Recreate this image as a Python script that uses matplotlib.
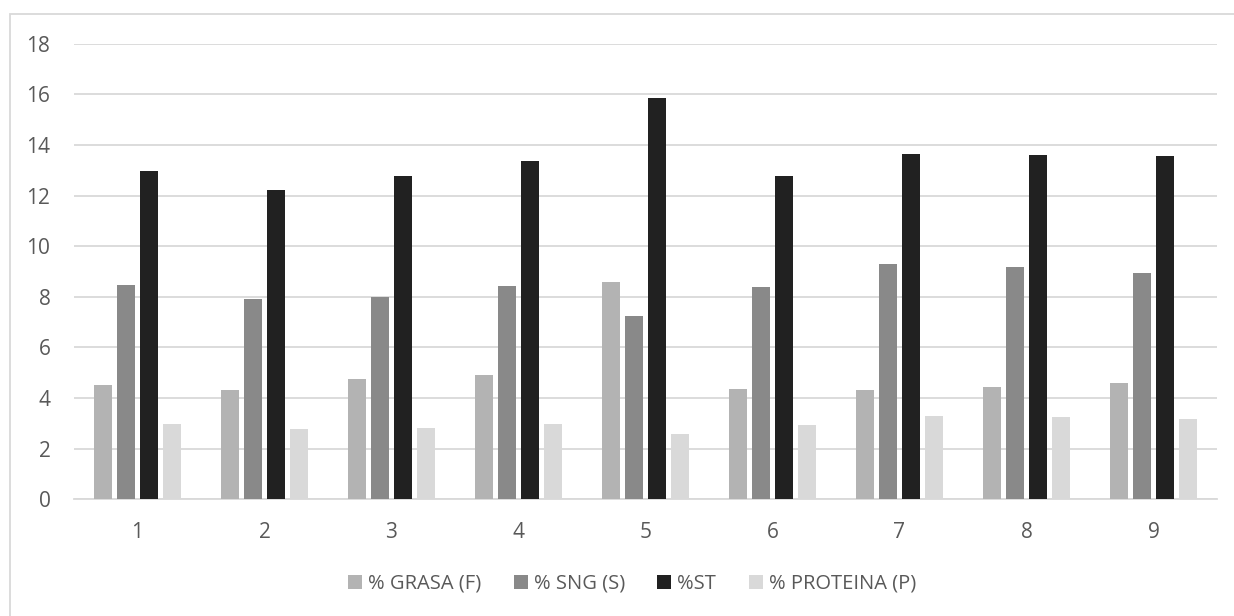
import numpy as np
import matplotlib.pyplot as plt
from matplotlib.patches import Patch, Rectangle

plt.rcParams['font.family'] = ['Open Sans', 'DejaVu Sans']

muestras = ['1', '2', '3', '4', '5', '6', '7', '8', '9']
grasa = [4.52, 4.32, 4.75, 4.91, 8.59, 4.36, 4.32, 4.44, 4.60]
sng = [8.47, 7.91, 8.00, 8.43, 7.24, 8.39, 9.30, 9.18, 8.94]
st = [12.97, 12.22, 12.77, 13.37, 15.86, 12.77, 13.64, 13.60, 13.56]
proteina = [2.97, 2.78, 2.82, 2.97, 2.58, 2.94, 3.29, 3.25, 3.17]

series = ['% GRASA (F)', '% SNG (S)', '%ST', '% PROTEINA (P)']
colores = ['#b3b3b3', '#898989', '#212121', '#d9d9d9']
texto = '#595959'

W, H = 1234, 616
fig = plt.figure(figsize=(W / 100, H / 100), dpi=100)

# marco exterior del grafico (cortado a la derecha y abajo)
fig.patches.append(Rectangle((10 / W, -0.05), 1.1, 1 - 14 / H + 0.05,
                             transform=fig.transFigure, fill=False,
                             edgecolor='#d9d9d9', linewidth=1.3))

ax = fig.add_axes([74 / W, (H - 499.3) / H, 1143 / W, (499.3 - 43.7) / H])

x = np.arange(len(muestras))
ancho = 0.142
paso = 0.181
valores = [grasa, sng, st, proteina]
for i, (vals, col) in enumerate(zip(valores, colores)):
    ax.bar(x + (i - 1.5) * paso, vals, ancho, color=col, zorder=3)

ax.set_xlim(-0.5, len(muestras) - 0.5)
ax.set_ylim(0, 18)
ax.set_yticks(range(0, 19, 2))
ax.set_xticks(x)
ax.set_xticklabels(muestras)
ax.yaxis.grid(True, color='#d9d9d9', linewidth=1.3, zorder=0)
ax.set_axisbelow(True)
for s in ['top', 'right', 'left']:
    ax.spines[s].set_visible(False)
ax.spines['bottom'].set_color('#d9d9d9')
ax.spines['bottom'].set_linewidth(1.3)
ax.tick_params(axis='both', length=0, labelsize=15, colors=texto)
ax.tick_params(axis='y', pad=17)
ax.tick_params(axis='x', pad=16)

handles = [Patch(facecolor=c, edgecolor='none') for c in colores]
fig.legend(handles, series, loc='center', ncol=4, frameon=False,
           bbox_to_anchor=(632 / W, 1 - 584 / H), fontsize=14.5,
           handlelength=0.7, handleheight=0.7, handletextpad=0.3,
           columnspacing=1.6, labelcolor=texto)

fig.savefig('out.png', dpi=100)
